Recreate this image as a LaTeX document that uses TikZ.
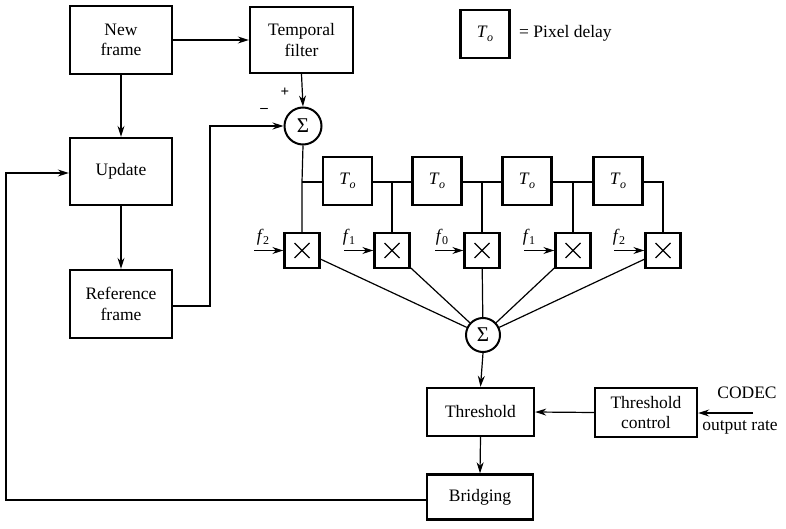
\documentclass[tikz,border=0pt]{standalone}
\usepackage{fontspec}
\setmainfont{Liberation Serif}
\usetikzlibrary{arrows.meta}
\newcommand\Tsubo{\textit{T}\kern-0.5pt\raisebox{-3.5pt}{\fontsize{12}{12}\selectfont\textit{o}}}
\newcommand\fsubx[1]{\textit{f}\kern-0.5pt\raisebox{-3.5pt}{\fontsize{12}{12}\selectfont #1}}
\newcommand\bigsig{{\fontsize{21}{21}\selectfont Σ}}
\begin{document}
\begin{tikzpicture}[x=1pt,y=-1pt,
  font=\fontsize{17.5}{20.5}\selectfont,
  blk/.style={draw,line width=2.4pt,align=center,inner sep=0pt},
  dly/.style={blk,minimum width=49pt,minimum height=48pt},
  mul/.style={draw,line width=2.4pt,minimum width=35pt,minimum height=35pt,inner sep=0pt},
  sumc/.style={draw,circle,line width=2pt,inner sep=0pt},
  con/.style={line width=1.2pt},
  arr/.style={con,-{Stealth[length=11pt,width=7pt]}},
  lbl/.style={inner sep=0pt}]
\useasboundingbox (0,0) rectangle (786,529);

% main blocks
\node[blk,minimum width=102pt,minimum height=68pt] (newf) at (121,40) {New\\frame};
\node[blk,minimum width=103pt,minimum height=66pt] (temp) at (301.5,40) {Temporal\\filter};
\node[blk,minimum width=102pt,minimum height=67pt] (upd) at (121,171.5) {Update};
\node[blk,minimum width=102pt,minimum height=68pt] (ref) at (121,304) {Reference\\frame};
\node[sumc,minimum size=37pt] (sa) at (303,126) {\bigsig};

% legend
\node[dly] (leg) at (485,34) {\Tsubo};
\node[lbl,anchor=west] (legt) at (519,33) {= Pixel delay};

% delay line
\node[dly] (t1) at (347.5,181) {\Tsubo};
\node[dly] (t2) at (437,181) {\Tsubo};
\node[dly] (t3) at (527,181) {\Tsubo};
\node[dly] (t4) at (618,181) {\Tsubo};

% multipliers
\foreach \i/\x in {1/302,2/392,3/482,4/573,5/663}{
  \node[mul] (m\i) at (\x,250.5) {};
  \draw[line width=1.3pt] ([shift={(-7.5,-7.5)}]m\i.center) -- ([shift={(7.5,7.5)}]m\i.center)
                          ([shift={(-7.5,7.5)}]m\i.center) -- ([shift={(7.5,-7.5)}]m\i.center);
}
\node[sumc,minimum size=34pt] (sb) at (483,335) {\bigsig};

\node[blk,minimum width=107pt,minimum height=48pt] (thr) at (480.5,412) {Threshold};
\node[blk,minimum width=102pt,minimum height=49pt] (thc) at (646,412.5) {Threshold\\control};
\node[blk,minimum width=106pt,minimum height=45pt] (brg) at (480,497) {Bridging};

\node[lbl] (codec) at (747,393) {CODEC};
\node[lbl] (orate) at (740,427) {output rate};

% signs
\node[lbl,font=\fontsize{15}{15}\selectfont\bfseries] (plus) at (285,92) {+};
\node[lbl,font=\fontsize{15}{15}\selectfont\bfseries] (minus) at (264,110) {–};

% connectors top
\draw[arr] (newf.east) -- (temp.west);
\draw[arr] (newf.south) -- (upd.north);
\draw[arr] (temp.south) -- (sa.north);
\draw[arr] (upd.south) -- (ref.north);
\coordinate (rt) at (210,306);
\draw[arr] (ref.east |- rt) -- (rt) -- (210,126) -- (sa.west);

% delay line connections
\coordinate (j1) at (302,182);
\draw[con] (sa.south) -- (j1) -- (m1.north);
\draw[con] (j1) -- (t1.west |- j1);
\draw[con] (t1.east |- j1) -- (t2.west |- j1);
\draw[con] (392,182) -- (m2.north);
\draw[con] (t2.east |- j1) -- (t3.west |- j1);
\draw[con] (482,182) -- (m3.north);
\draw[con] (t3.east |- j1) -- (t4.west |- j1);
\draw[con] (573,182) -- (m4.north);
\draw[con] (t4.east |- j1) -- (663,182) -- (m5.north);

% coefficient inputs
\node[lbl] (f1l) at (263,237) {\fsubx{2}};
\node[lbl] (f2l) at (349,237) {\fsubx{1}};
\node[lbl] (f3l) at (442,237) {\fsubx{0}};
\node[lbl] (f4l) at (529,237) {\fsubx{1}};
\node[lbl] (f5l) at (619,237) {\fsubx{2}};
\draw[arr] (254,250.5) -- (m1.west);
\draw[arr] (344,250.5) -- (m2.west);
\draw[arr] (435,250.5) -- (m3.west);
\draw[arr] (524,250.5) -- (m4.west);
\draw[arr] (614,250.5) -- (m5.west);

% multipliers to sum
\foreach \i in {1,...,5}{ \draw[con] (m\i) -- (sb); }

% lower chain
\draw[arr] (sb.south) -- (thr.north);
\draw[arr] (thc.west) -- (thr.east);
\coordinate (cin) at (753,413);
\draw[arr] (cin) -- (thc.east |- cin);
\draw[arr] (thr.south) -- (brg.north);
\coordinate (fb) at (6,500);
\draw[arr] (brg.west |- fb) -- (fb) -- (6,173) -- (upd.west |- 0,173);
\end{tikzpicture}
\end{document}
